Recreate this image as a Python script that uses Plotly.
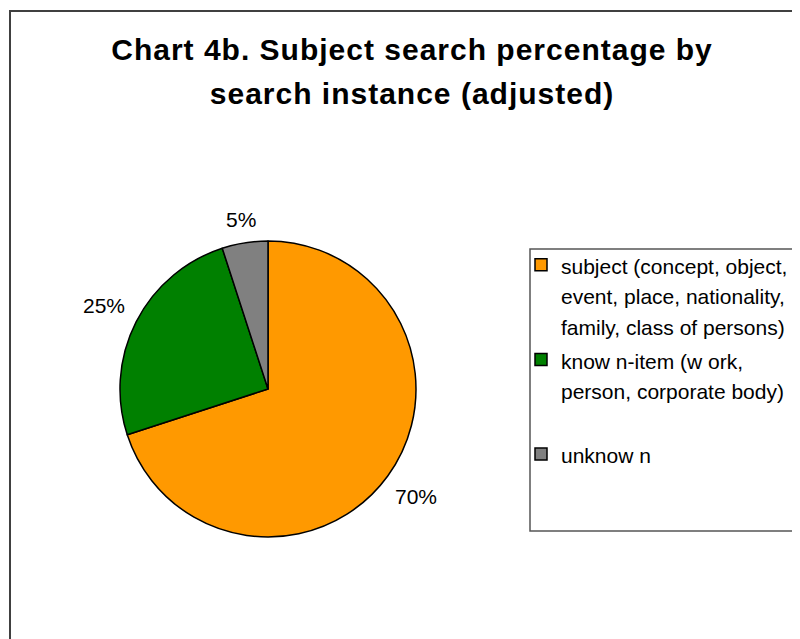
import math
import plotly.graph_objects as go

labels = [
    "subject (concept, object,<br>event, place, nationality,<br>family, class of persons)",
    "know n-item (w ork,<br>person, corporate body)<br> ",
    "unknow n",
]
values = [70, 25, 5]
colors = ["#FF9900", "#008000", "#808080"]
title_lines = ["Chart 4b. Subject search percentage by", "search instance (adjusted)"]

W, H = 792, 631  # page adds an 8px body margin
FONT = "Liberation Sans, Arial, sans-serif"
LABEL_SIZE = 21


def px(x):
    return (x - 8) / W


def py(y):
    return 1 - (y - 8) / H


dom_x = [px(120), px(416)]
dom_y = [py(537), py(241)]

fig = go.Figure()
fig.add_trace(go.Pie(
    labels=[f'<span style="font-size:21px">{l}</span>' for l in labels],
    values=values,
    sort=False,
    direction="clockwise",
    rotation=0,
    marker=dict(colors=colors, line=dict(color="black", width=1.5)),
    textinfo="none",
    domain=dict(x=dom_x, y=dom_y),
    hoverinfo="skip",
))

# percentage labels placed outside each slice, derived from the values
cx = (dom_x[0] + dom_x[1]) / 2 * W
cy = (1 - (dom_y[0] + dom_y[1]) / 2) * H
R = (dom_x[1] - dom_x[0]) * W / 2
GAP = 14
total = sum(values)
cum = 0
annotations = []
for v in values:
    mid = (cum + v / 2) / total * 2 * math.pi
    cum += v
    ux, uy = math.sin(mid), -math.cos(mid)
    txt = f"{round(v / total * 100)}%"
    w = (0.556 * (len(txt) - 1) + 0.889) * LABEL_SIZE
    h = 0.72 * LABEL_SIZE
    d = R + GAP + abs(ux) * w / 2 + abs(uy) * h / 2
    annotations.append(dict(
        x=(cx + ux * d) / W, y=1 - (cy + uy * d) / H,
        xref="paper", yref="paper", text=txt, showarrow=False,
        xanchor="center", yanchor="middle",
        font=dict(family=FONT, size=LABEL_SIZE, color="black"),
    ))

title_html = "<br>".join(
    f'<span style="font-size:30px;letter-spacing:1px">{t}</span>' for t in title_lines
)

fig.update_layout(
    width=W, height=H,
    margin=dict(l=0, r=0, t=0, b=0),
    paper_bgcolor="white",
    plot_bgcolor="white",
    title=dict(
        text=f"<b>{title_html}</b>",
        x=px(412), xanchor="center", y=py(60), yanchor="middle",
        font=dict(family=FONT, size=34, color="black"),
    ),
    annotations=annotations,
    showlegend=True,
    legend=dict(
        x=px(521), xanchor="left", y=py(243), yanchor="top",
        valign="top",
        font=dict(family=FONT, size=23.5, color="black"),
        bgcolor="rgba(0,0,0,0)", borderwidth=0,
    ),
    shapes=[
        dict(type="rect", xref="paper", yref="paper",
             x0=px(10), x1=1.05, y0=-0.05, y1=py(11),
             line=dict(color="#404040", width=2), fillcolor="rgba(0,0,0,0)", layer="below"),
        dict(type="rect", xref="paper", yref="paper",
             x0=px(530), x1=1.05, y0=py(531), y1=py(249),
             line=dict(color="#555555", width=1.5), fillcolor="rgba(0,0,0,0)", layer="below"),
    ],
)

fig.write_html("out.html")
